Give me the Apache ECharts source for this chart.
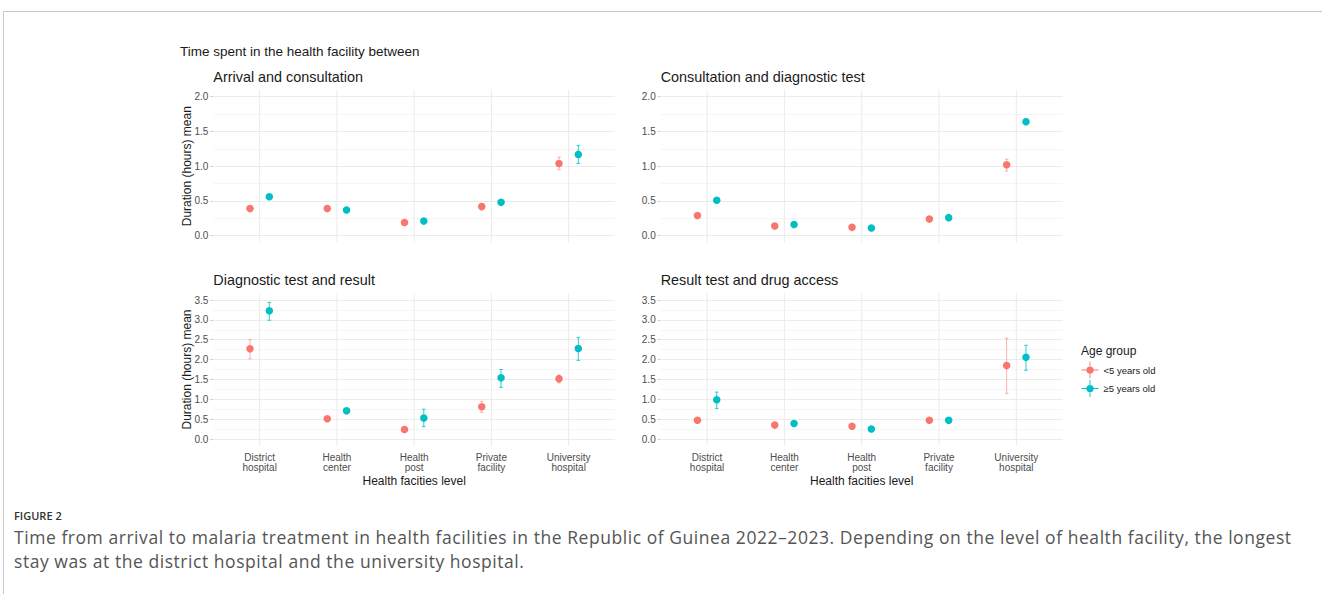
<!DOCTYPE html>
<html>
<head>
<meta charset="utf-8">
<script src="https://cdn.jsdelivr.net/npm/echarts@6/dist/echarts.min.js"></script>
<style>
  body { margin: 0; background: #fff; }
  #frame { position: absolute; left: 3px; top: 11px; width: 1330px; height: 600px; border-top: 1px solid #c8c8c8; border-left: 1px solid #c8c8c8; }
  #diogram { position: absolute; left: 0; top: 0; width: 1322px; height: 594px; }
  #caption { position: absolute; left: 14px; top: 506px; font-family: "Open Sans", sans-serif; color: #555; }
  #caption .fig { font-size: 11px; font-weight: 600; color: #333; line-height: 19px; }
  #caption .txt { font-size: 17.5px; letter-spacing: 0.55px; line-height: 24px; white-space: nowrap; }
</style>
</head>
<body>
<div id="frame"></div>
<div id="diogram"></div>
<div id="caption">
  <div class="fig">FIGURE 2</div>
  <div class="txt">Time from arrival to malaria treatment in health facilities in the Republic of Guinea 2022–2023. Depending on the level of health facility, the longest<br>stay was at the district hospital and the university hospital.</div>
</div>
<script>
let facilities = ['District\nhospital', 'Health\ncenter', 'Health\npost', 'Private\nfacility', 'University\nhospital'];
let groups = ['<5 years old', '≥5 years old'];
let yTicksTop = [0, 0.5, 1, 1.5, 2];
let yTicksBottom = [0, 0.5, 1, 1.5, 2, 2.5, 3, 3.5];

// Arrival and consultation
let arrivalYoung = [0.39, 0.39, 0.19, 0.42, 1.04];
let arrivalYoungLow = [0.37, 0.37, 0.17, 0.37, 0.95];
let arrivalYoungHigh = [0.41, 0.41, 0.21, 0.46, 1.13];
let arrivalOld = [0.56, 0.37, 0.21, 0.48, 1.17];
let arrivalOldLow = [0.54, 0.35, 0.19, 0.46, 1.04];
let arrivalOldHigh = [0.58, 0.39, 0.23, 0.50, 1.30];

// Consultation and diagnostic test
let consultYoung = [0.29, 0.14, 0.12, 0.24, 1.02];
let consultYoungLow = [0.27, 0.13, 0.11, 0.22, 0.93];
let consultYoungHigh = [0.31, 0.16, 0.13, 0.26, 1.10];
let consultOld = [0.51, 0.16, 0.11, 0.26, 1.64];
let consultOldLow = [0.49, 0.14, 0.10, 0.24, 1.60];
let consultOldHigh = [0.53, 0.18, 0.12, 0.28, 1.68];

// Diagnostic test and result
let testYoung = [2.27, 0.51, 0.24, 0.81, 1.52];
let testYoungLow = [2.02, 0.48, 0.22, 0.67, 1.41];
let testYoungHigh = [2.50, 0.54, 0.26, 0.95, 1.61];
let testOld = [3.23, 0.71, 0.53, 1.54, 2.28];
let testOldLow = [2.99, 0.64, 0.31, 1.30, 1.98];
let testOldHigh = [3.44, 0.77, 0.75, 1.75, 2.56];

// Result test and drug access
let drugYoung = [0.47, 0.35, 0.32, 0.47, 1.85];
let drugYoungLow = [0.44, 0.33, 0.30, 0.44, 1.15];
let drugYoungHigh = [0.50, 0.37, 0.34, 0.50, 2.54];
let drugOld = [0.99, 0.39, 0.25, 0.47, 2.06];
let drugOldLow = [0.77, 0.36, 0.23, 0.44, 1.73];
let drugOldHigh = [1.18, 0.42, 0.27, 0.50, 2.36];

const RED = '#F8766D';
const CYAN = '#00BFC4';
const FONT = '"Liberation Sans", Arial, sans-serif';

// layout of the four panels (x0/width: panel edges, yHi/yZero: pixel rows of top tick and 0)
let panels = [
    { title: 'Arrival and consultation', x0: 213.3, width: 401.7, yHi: 96.7, yZero: 235.7, ticks: yTicksTop, left: true, bottom: false,
      young: [arrivalYoung, arrivalYoungLow, arrivalYoungHigh], old: [arrivalOld, arrivalOldLow, arrivalOldHigh] },
    { title: 'Consultation and diagnostic test', x0: 660.7, width: 402, yHi: 96.7, yZero: 235.7, ticks: yTicksTop, left: false, bottom: false,
      young: [consultYoung, consultYoungLow, consultYoungHigh], old: [consultOld, consultOldLow, consultOldHigh] },
    { title: 'Diagnostic test and result', x0: 213.3, width: 401.7, yHi: 300, yZero: 439, ticks: yTicksBottom, left: true, bottom: true,
      young: [testYoung, testYoungLow, testYoungHigh], old: [testOld, testOldLow, testOldHigh] },
    { title: 'Result test and drug access', x0: 660.7, width: 402, yHi: 300, yZero: 439, ticks: yTicksBottom, left: false, bottom: true,
      young: [drugYoung, drugYoungLow, drugYoungHigh], old: [drugOld, drugOldLow, drugOldHigh] }
];

let grid = [], xAxis = [], yAxis = [], series = [];

function errorBars(sign, color, opacity) {
    return function (params, api) {
        let band = api.size([1, 0])[0];
        let dx = sign * band * 0.125;
        let lo = api.coord([api.value(0), api.value(2)]);
        let hi = api.coord([api.value(0), api.value(3)]);
        let x = lo[0] + dx;
        let cap = 1.8;
        let style = { stroke: color, lineWidth: 1, opacity: opacity };
        return {
            type: 'group',
            children: [
                { type: 'line', shape: { x1: x, y1: lo[1], x2: x, y2: hi[1] }, style: style },
                { type: 'line', shape: { x1: x - cap, y1: lo[1], x2: x + cap, y2: lo[1] }, style: style },
                { type: 'line', shape: { x1: x - cap, y1: hi[1], x2: x + cap, y2: hi[1] }, style: style }
            ]
        };
    };
}

panels.forEach(function (p, k) {
    let yMax = p.ticks[p.ticks.length - 1];
    let pxUnit = (p.yZero - p.yHi) / yMax;
    let pad = 0.05 * yMax * pxUnit;
    let unit = p.width / 5.2;
    let dodge = unit * 0.125;
    let gy = 2 * k, gd = 2 * k + 1;

    // grid carrying the horizontal grid lines and y labels
    grid.push({ left: p.x0, top: p.yHi, width: p.width, height: p.yZero - p.yHi, outerBoundsMode: 'none' });
    // grid carrying the data, spanning the full expanded panel
    grid.push({ left: p.x0 + 0.1 * unit, top: p.yHi - pad, width: 5 * unit, height: p.yZero - p.yHi + 2 * pad, outerBoundsMode: 'none' });

    xAxis.push({ gridIndex: gy, type: 'value', min: 0, max: 1, show: false });
    yAxis.push({
        gridIndex: gy, type: 'value', min: p.ticks[0], max: yMax, interval: 0.5,
        axisLine: { show: false },
        axisTick: { show: true, length: 3, lineStyle: { color: '#d0d0d0' } },
        axisLabel: { color: '#4d4d4d', fontSize: 10, margin: 5, fontFamily: FONT, formatter: v => v.toFixed(1) },
        splitLine: { show: true, lineStyle: { color: '#ebebeb', width: 1 } },
        minorTick: { show: false, splitNumber: 2 },
        minorSplitLine: { show: true, lineStyle: { color: '#f5f5f5', width: 1 } },
        name: p.left ? 'Duration (hours) mean' : '',
        nameLocation: 'middle', nameGap: 20, nameMoveOverlap: false,
        nameTextStyle: { fontSize: 12, color: '#1a1a1a', fontFamily: FONT }
    });

    xAxis.push({
        gridIndex: gd, type: 'category', data: facilities, boundaryGap: true,
        axisLine: { show: false }, axisTick: { show: false }, splitLine: { show: false },
        axisLabel: { show: p.bottom, color: '#4d4d4d', fontSize: 10, lineHeight: 10.5, margin: 6, fontFamily: FONT, interval: 0 },
        name: p.bottom ? 'Health facities level' : '',
        nameLocation: 'middle', nameGap: 29, nameMoveOverlap: false,
        nameTextStyle: { fontSize: 12, color: '#1a1a1a', fontFamily: FONT }
    });
    yAxis.push({ gridIndex: gd, type: 'value', min: -0.05 * yMax, max: 1.05 * yMax, show: false });

    // vertical grid lines at each facility
    series.push({
        type: 'custom', xAxisIndex: gd, yAxisIndex: gd, silent: true, z: 1,
        data: facilities.map((f, i) => [i]),
        encode: { x: 0 },
        renderItem: function (params, api) {
            let pt = api.coord([api.value(0), 0]);
            let cs = params.coordSys;
            return { type: 'line', shape: { x1: pt[0], y1: cs.y, x2: pt[0], y2: cs.y + cs.height }, style: { stroke: '#ebebeb', lineWidth: 1 } };
        }
    });

    [[p.young, -1, RED, 0.55, groups[0]], [p.old, 1, CYAN, 0.8, groups[1]]].forEach(function (g) {
        let vals = g[0];
        series.push({
            type: 'custom', xAxisIndex: gd, yAxisIndex: gd, silent: true, z: 3,
            data: facilities.map((f, i) => [i, vals[0][i], vals[1][i], vals[2][i]]),
            encode: { x: 0, y: 1 },
            renderItem: errorBars(g[1], g[2], g[3])
        });
        series.push({
            name: g[4], type: 'scatter', xAxisIndex: gd, yAxisIndex: gd, z: 5,
            symbol: 'circle', symbolSize: 7.5, symbolOffset: [g[1] * dodge, 0],
            itemStyle: { color: g[2], opacity: 1 },
            data: facilities.map((f, i) => [i, vals[0][i]])
        });
    });
});

let graphic = [
    { type: 'text', x: 180, y: 51.7, style: { text: 'Time spent in the health facility between', fill: '#1a1a1a', fontSize: 13.5, fontFamily: FONT, verticalAlign: 'middle', textVerticalAlign: 'middle' } },
    { type: 'text', x: 1081, y: 350.7, style: { text: 'Age group', fill: '#1a1a1a', fontSize: 12, fontFamily: FONT, verticalAlign: 'middle', textVerticalAlign: 'middle' } }
];
panels.forEach(function (p) {
    graphic.push({ type: 'text', x: p.x0, y: p.yHi < 200 ? 76.7 : 280, style: { text: p.title, fill: '#1a1a1a', fontSize: 14.4, fontFamily: FONT, verticalAlign: 'middle', textVerticalAlign: 'middle' } });
});

let myDiogram = echarts.init(document.getElementById('diogram'), null, { renderer: 'svg' });

let option = {
    animation: false,
    textStyle: { fontFamily: FONT },
    grid: grid,
    xAxis: xAxis,
    yAxis: yAxis,
    graphic: graphic,
    legend: {
        data: groups, orient: 'vertical', left: 1081.5, top: 361.5, padding: 0,
        itemWidth: 17, itemHeight: 17, itemGap: 1.5, selectedMode: false,
        icon: 'path://M0,7.6h16v0.8h-16z M7.6,0h0.8v16h-0.8z M4.6,8a3.4,3.4 0 1,1 6.8,0a3.4,3.4 0 1,1 -6.8,0z',
        textStyle: { fontSize: 9.5, color: '#1a1a1a', fontFamily: FONT }
    },
    series: series
};

myDiogram.setOption(option);
</script>
</body>
</html>
